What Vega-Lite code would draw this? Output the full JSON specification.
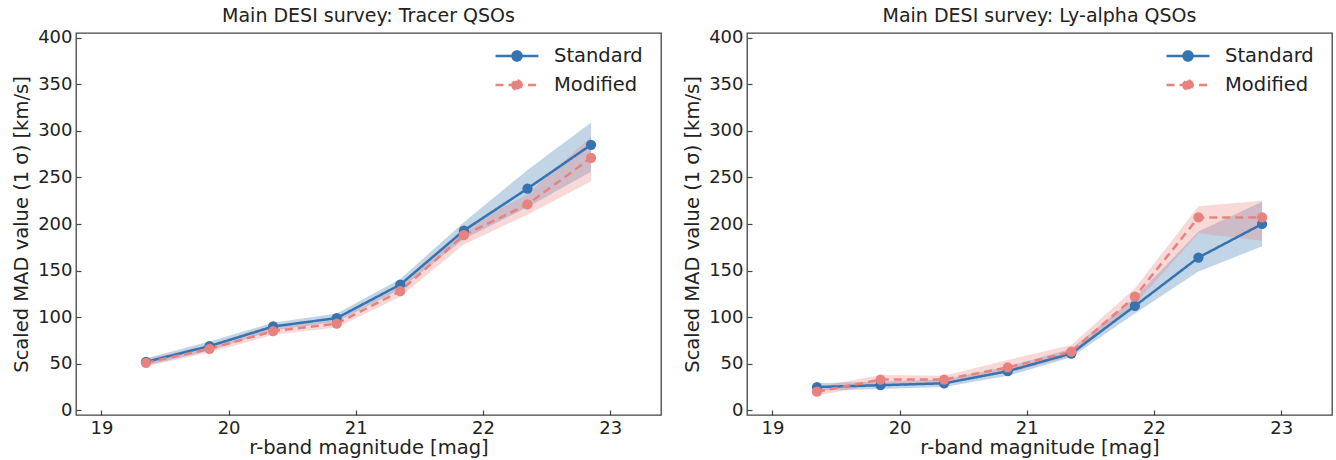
{
  "$schema": "https://vega.github.io/schema/vega-lite/v6.json",
  "padding": {"left": 10, "top": 6, "right": 5, "bottom": 0},
  "background": "white",
  "data": {
    "values": [
      {"p": "Tracer", "s": "Standard", "m": 19.35, "v": 52, "lo": 48, "hi": 56},
      {"p": "Tracer", "s": "Standard", "m": 19.85, "v": 69, "lo": 64, "hi": 74},
      {"p": "Tracer", "s": "Standard", "m": 20.35, "v": 90, "lo": 86, "hi": 94},
      {"p": "Tracer", "s": "Standard", "m": 20.85, "v": 99, "lo": 95, "hi": 104},
      {"p": "Tracer", "s": "Standard", "m": 21.35, "v": 135, "lo": 130, "hi": 141},
      {"p": "Tracer", "s": "Standard", "m": 21.85, "v": 193, "lo": 184, "hi": 202},
      {"p": "Tracer", "s": "Standard", "m": 22.35, "v": 238, "lo": 218, "hi": 258},
      {"p": "Tracer", "s": "Standard", "m": 22.85, "v": 285, "lo": 256, "hi": 309},
      {"p": "Tracer", "s": "Modified", "m": 19.35, "v": 51, "lo": 47, "hi": 55},
      {"p": "Tracer", "s": "Modified", "m": 19.85, "v": 66, "lo": 62, "hi": 70},
      {"p": "Tracer", "s": "Modified", "m": 20.35, "v": 85, "lo": 81, "hi": 89},
      {"p": "Tracer", "s": "Modified", "m": 20.85, "v": 93, "lo": 89, "hi": 97},
      {"p": "Tracer", "s": "Modified", "m": 21.35, "v": 128, "lo": 122, "hi": 133},
      {"p": "Tracer", "s": "Modified", "m": 21.85, "v": 188, "lo": 178, "hi": 196},
      {"p": "Tracer", "s": "Modified", "m": 22.35, "v": 221, "lo": 210, "hi": 232},
      {"p": "Tracer", "s": "Modified", "m": 22.85, "v": 271, "lo": 246, "hi": 294},
      {"p": "Lya", "s": "Standard", "m": 19.35, "v": 25, "lo": 21, "hi": 29},
      {"p": "Lya", "s": "Standard", "m": 19.85, "v": 27, "lo": 23, "hi": 31},
      {"p": "Lya", "s": "Standard", "m": 20.35, "v": 29, "lo": 25, "hi": 33},
      {"p": "Lya", "s": "Standard", "m": 20.85, "v": 42, "lo": 37, "hi": 47},
      {"p": "Lya", "s": "Standard", "m": 21.35, "v": 61, "lo": 57, "hi": 66},
      {"p": "Lya", "s": "Standard", "m": 21.85, "v": 112, "lo": 104, "hi": 121},
      {"p": "Lya", "s": "Standard", "m": 22.35, "v": 164, "lo": 149, "hi": 192},
      {"p": "Lya", "s": "Standard", "m": 22.85, "v": 200, "lo": 176, "hi": 224},
      {"p": "Lya", "s": "Modified", "m": 19.35, "v": 20, "lo": 16, "hi": 25},
      {"p": "Lya", "s": "Modified", "m": 19.85, "v": 33, "lo": 28, "hi": 38},
      {"p": "Lya", "s": "Modified", "m": 20.35, "v": 33, "lo": 29, "hi": 37},
      {"p": "Lya", "s": "Modified", "m": 20.85, "v": 46, "lo": 40, "hi": 54},
      {"p": "Lya", "s": "Modified", "m": 21.35, "v": 63, "lo": 58, "hi": 70},
      {"p": "Lya", "s": "Modified", "m": 21.85, "v": 122, "lo": 114, "hi": 131},
      {"p": "Lya", "s": "Modified", "m": 22.35, "v": 207, "lo": 190, "hi": 219},
      {"p": "Lya", "s": "Modified", "m": 22.85, "v": 207, "lo": 182, "hi": 225}
    ]
  },
  "spacing": 19,
  "resolve": {"legend": {"color": "independent", "strokeDash": "independent"}},
  "hconcat": [
    {
      "width": 585,
      "height": 382,
      "title": "Main DESI survey: Tracer QSOs",
      "transform": [{"filter": "datum.p === 'Tracer'"}],
      "encoding": {
        "x": {"field": "m", "type": "quantitative", "scale": {"domain": [18.8, 23.4], "nice": false, "zero": false}, "axis": {"values": [19, 20, 21, 22, 23], "title": "r-band magnitude [mag]"}},
        "color": {"field": "s", "type": "nominal", "scale": {"domain": ["Standard", "Modified"], "range": ["#3573b1", "#e8827e"]},
          "legend": {"title": null, "orient": "none", "legendX": 419, "legendY": 11, "padding": 0, "labelFontSize": 19.5, "labelColor": "#222", "symbolType": "M-2,0H-0.42A0.42,0.42,0,1,1,0.42,0A0.42,0.42,0,1,1,-0.42,0A0.42,0.42,0,1,1,0.42,0H2", "symbolSize": 462, "symbolStrokeWidth": 2.5, "symbolOffset": 10, "labelOffset": 25, "rowPadding": 7,
            "encode": {"symbols": {"update": {"fill": {"signal": "datum.value === 'Standard' ? '#3573b1' : '#e8827e'"}, "stroke": {"signal": "datum.value === 'Standard' ? '#3573b1' : '#e8827e'"}, "strokeDash": {"signal": "datum.value === 'Standard' ? [1, 0] : [7, 4, 54.6, 4, 7, 0]"}, "strokeWidth": {"value": 2.5}, "opacity": {"value": 1}}}}}}
      },
      "layer": [
        {
          "mark": {"type": "area", "opacity": 0.3},
          "encoding": {
            "y": {"field": "lo", "type": "quantitative", "scale": {"domain": [-5, 405], "nice": false, "zero": false}, "axis": {"values": [0, 50, 100, 150, 200, 250, 300, 350, 400], "title": "Scaled MAD value (1 σ) [km/s]"}},
            "y2": {"field": "hi"}
          }
        },
        {
          "mark": {"type": "line", "strokeWidth": 2.5},
          "encoding": {
            "y": {"field": "v", "type": "quantitative"},
            "strokeDash": {"field": "s", "type": "nominal", "scale": {"domain": ["Standard", "Modified"], "range": [[1, 0], [8, 5]]},
              "legend": {"title": null, "orient": "none", "legendX": 419, "legendY": 11, "padding": 0, "labelFontSize": 19.5, "labelColor": "#222", "symbolType": "M-2,0H-0.42A0.42,0.42,0,1,1,0.42,0A0.42,0.42,0,1,1,-0.42,0A0.42,0.42,0,1,1,0.42,0H2", "symbolSize": 462, "symbolStrokeWidth": 2.5, "symbolOffset": 10, "labelOffset": 25, "rowPadding": 7,
                "encode": {"symbols": {"update": {"fill": {"signal": "datum.value === 'Standard' ? '#3573b1' : '#e8827e'"}, "stroke": {"signal": "datum.value === 'Standard' ? '#3573b1' : '#e8827e'"}, "strokeDash": {"signal": "datum.value === 'Standard' ? [1, 0] : [7, 4, 54.6, 4, 7, 0]"}, "strokeWidth": {"value": 2.5}, "opacity": {"value": 1}}}}}}
          }
        },
        {
          "mark": {"type": "point", "filled": true, "size": 105, "opacity": 1},
          "encoding": {
            "y": {"field": "v", "type": "quantitative"}
          }
        }
      ]
    },
    {
      "width": 585,
      "height": 382,
      "title": "Main DESI survey: Ly-alpha QSOs",
      "transform": [{"filter": "datum.p === 'Lya'"}],
      "encoding": {
        "x": {"field": "m", "type": "quantitative", "scale": {"domain": [18.8, 23.4], "nice": false, "zero": false}, "axis": {"values": [19, 20, 21, 22, 23], "title": "r-band magnitude [mag]"}},
        "color": {"field": "s", "type": "nominal", "scale": {"domain": ["Standard", "Modified"], "range": ["#3573b1", "#e8827e"]},
          "legend": {"title": null, "orient": "none", "legendX": 419, "legendY": 11, "padding": 0, "labelFontSize": 19.5, "labelColor": "#222", "symbolType": "M-2,0H-0.42A0.42,0.42,0,1,1,0.42,0A0.42,0.42,0,1,1,-0.42,0A0.42,0.42,0,1,1,0.42,0H2", "symbolSize": 462, "symbolStrokeWidth": 2.5, "symbolOffset": 10, "labelOffset": 25, "rowPadding": 7,
            "encode": {"symbols": {"update": {"fill": {"signal": "datum.value === 'Standard' ? '#3573b1' : '#e8827e'"}, "stroke": {"signal": "datum.value === 'Standard' ? '#3573b1' : '#e8827e'"}, "strokeDash": {"signal": "datum.value === 'Standard' ? [1, 0] : [7, 4, 54.6, 4, 7, 0]"}, "strokeWidth": {"value": 2.5}, "opacity": {"value": 1}}}}}}
      },
      "layer": [
        {
          "mark": {"type": "area", "opacity": 0.3},
          "encoding": {
            "y": {"field": "lo", "type": "quantitative", "scale": {"domain": [-5, 405], "nice": false, "zero": false}, "axis": {"values": [0, 50, 100, 150, 200, 250, 300, 350, 400], "title": "Scaled MAD value (1 σ) [km/s]"}},
            "y2": {"field": "hi"}
          }
        },
        {
          "mark": {"type": "line", "strokeWidth": 2.5},
          "encoding": {
            "y": {"field": "v", "type": "quantitative"},
            "strokeDash": {"field": "s", "type": "nominal", "scale": {"domain": ["Standard", "Modified"], "range": [[1, 0], [8, 5]]},
              "legend": {"title": null, "orient": "none", "legendX": 419, "legendY": 11, "padding": 0, "labelFontSize": 19.5, "labelColor": "#222", "symbolType": "M-2,0H-0.42A0.42,0.42,0,1,1,0.42,0A0.42,0.42,0,1,1,-0.42,0A0.42,0.42,0,1,1,0.42,0H2", "symbolSize": 462, "symbolStrokeWidth": 2.5, "symbolOffset": 10, "labelOffset": 25, "rowPadding": 7,
                "encode": {"symbols": {"update": {"fill": {"signal": "datum.value === 'Standard' ? '#3573b1' : '#e8827e'"}, "stroke": {"signal": "datum.value === 'Standard' ? '#3573b1' : '#e8827e'"}, "strokeDash": {"signal": "datum.value === 'Standard' ? [1, 0] : [7, 4, 54.6, 4, 7, 0]"}, "strokeWidth": {"value": 2.5}, "opacity": {"value": 1}}}}}}
          }
        },
        {
          "mark": {"type": "point", "filled": true, "size": 105, "opacity": 1},
          "encoding": {
            "y": {"field": "v", "type": "quantitative"}
          }
        }
      ]
    }
  ],
  "config": {
    "font": "DejaVu Sans",
    "view": {"stroke": "#444", "strokeWidth": 1.3},
    "axis": {"domain": false, "grid": false, "tickSize": -5, "tickColor": "#444", "tickWidth": 1.2, "labelFontSize": 18, "labelColor": "#222", "labelPadding": 9, "titleFontSize": 19.5, "titleFontWeight": "normal", "titleColor": "#222"},
    "axisY": {"titlePadding": 6},
    "axisX": {"titlePadding": 1},
    "title": {"fontSize": 19, "fontWeight": "normal", "color": "#222", "offset": 3}
  }
}
